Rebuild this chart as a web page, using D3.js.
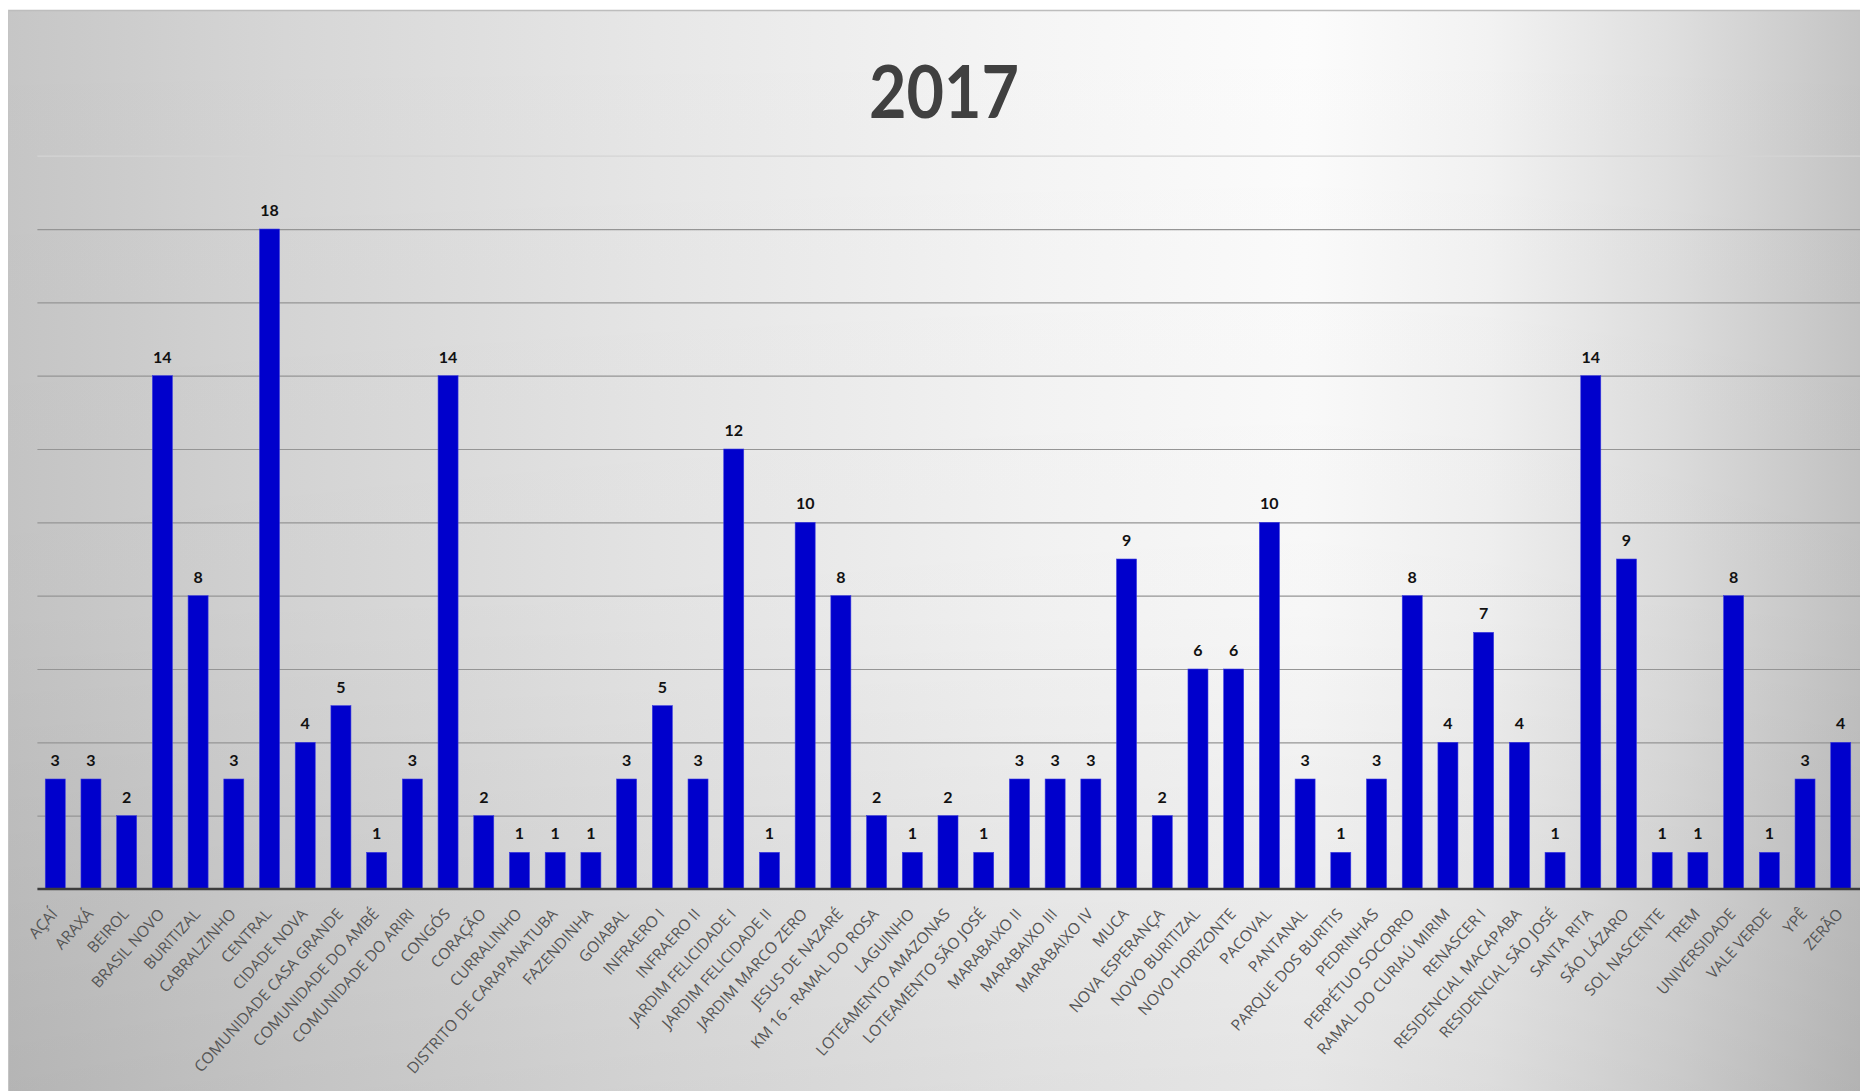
<!DOCTYPE html>
<html>
<head>
<meta charset="utf-8">
<script src="https://cdn.jsdelivr.net/npm/d3@7"></script>
<style>
  html, body { margin: 0; padding: 0; background: #ffffff; }
  svg { display: block; }
</style>
</head>
<body>
<svg id="chart" width="1860" height="1091"></svg>
<script>
const title = "2017";

const categories = [
  "AÇAÍ", "ARAXÁ", "BEIROL", "BRASIL NOVO", "BURITIZAL", "CABRALZINHO", "CENTRAL",
  "CIDADE NOVA", "COMUNIDADE CASA GRANDE", "COMUNIDADE DO AMBÉ", "COMUNIDADE DO ARIRI",
  "CONGÓS", "CORAÇÃO", "CURRALINHO", "DISTRITO DE CARAPANATUBA", "FAZENDINHA", "GOIABAL",
  "INFRAERO I", "INFRAERO II", "JARDIM FELICIDADE I", "JARDIM FELICIDADE II",
  "JARDIM MARCO ZERO", "JESUS DE NAZARÉ", "KM 16 - RAMAL DO ROSA", "LAGUINHO",
  "LOTEAMENTO AMAZONAS", "LOTEAMENTO SÃO JOSÉ", "MARABAIXO II", "MARABAIXO III",
  "MARABAIXO IV", "MUCA", "NOVA ESPERANÇA", "NOVO BURITIZAL", "NOVO HORIZONTE", "PACOVAL",
  "PANTANAL", "PARQUE DOS BURITIS", "PEDRINHAS", "PERPÉTUO SOCORRO", "RAMAL DO CURIAÚ MIRIM",
  "RENASCER I", "RESIDENCIAL MACAPABA", "RESIDENCIAL SÃO JOSÉ", "SANTA RITA", "SÃO LÁZARO",
  "SOL NASCENTE", "TREM", "UNIVERSIDADE", "VALE VERDE", "YPÊ", "ZERÃO"
];

const values = [
  3, 3, 2, 14, 8, 3, 18,
  4, 5, 1, 3,
  14, 2, 1, 1, 1, 3,
  5, 3, 12, 1,
  10, 8, 2, 1,
  2, 1, 3, 3,
  3, 9, 2, 6, 6, 10,
  3, 1, 3, 8, 4,
  7, 4, 1, 14, 9,
  1, 1, 8, 1, 3, 4
];

const yDomain = [0, 20];
const gridTicks = [2, 4, 6, 8, 10, 12, 14, 16, 18, 20];

const data = categories.map((c, i) => ({ cat: c, val: values[i] }));

const svg = d3.select("#chart");
const defs = svg.append("defs");

// Background gradients
const hg = defs.append("linearGradient").attr("id", "bgH")
  .attr("x1", "0").attr("y1", "0").attr("x2", "1").attr("y2", "0");
[[0, "#c6c6c6"], [0.15, "#d6d6d6"], [0.35, "#e7e7e7"], [0.55, "#f5f5f5"], [0.7, "#fcfcfc"],
 [0.8, "#f2f2f2"], [0.9, "#dedede"], [1, "#c4c4c4"]]
  .forEach(([o, c]) => hg.append("stop").attr("offset", o).attr("stop-color", c));

const vg = defs.append("linearGradient").attr("id", "bgV")
  .attr("x1", "0").attr("y1", "0").attr("x2", "0").attr("y2", "1");
[[0, "#000", 0], [0.55, "#000", 0.02], [1, "#000", 0.09]]
  .forEach(([o, c, a]) => vg.append("stop").attr("offset", o).attr("stop-color", c).attr("stop-opacity", a));

const box = { x: 8, y: 10, w: 1860 - 8, h: 1091 - 10 };
svg.append("rect").attr("x", box.x).attr("y", box.y).attr("width", box.w).attr("height", box.h)
  .attr("fill", "url(#bgH)");
svg.append("rect").attr("x", box.x).attr("y", box.y).attr("width", box.w).attr("height", box.h)
  .attr("fill", "url(#bgV)");
svg.append("line").attr("x1", box.x).attr("x2", 1860).attr("y1", box.y + 0.5).attr("y2", box.y + 0.5)
  .attr("stroke", "#bdbdbd").attr("stroke-width", 1.5);
svg.append("line").attr("x1", box.x + 0.5).attr("x2", box.x + 0.5).attr("y1", box.y).attr("y2", 1091)
  .attr("stroke", "#c4c4c4").attr("stroke-width", 1);

// Scales
const plot = { left: 37.4, right: 1858.6, top: 155.7, bottom: 889 };
const x = d3.scaleBand().domain(categories).range([plot.left, plot.right])
  .paddingInner(0.44).paddingOuter(0.22);
const y = d3.scaleLinear().domain(yDomain).range([plot.bottom, plot.top]);

// Gridlines
const grid = svg.append("g").attr("transform", `translate(${plot.left},0)`)
  .call(d3.axisLeft(y).tickValues(gridTicks).tickSize(-(1860 - plot.left)).tickFormat(""));
grid.select(".domain").remove();
grid.selectAll(".tick line")
  .attr("stroke", d => d === 20 ? "#d4d4d4" : "#959595")
  .attr("stroke-width", 1.2);

// Title
svg.append("text")
  .attr("x", 944).attr("y", 118)
  .attr("text-anchor", "middle")
  .attr("font-family", "Lato, 'Open Sans', sans-serif")
  .attr("font-weight", "bold")
  .attr("font-size", 73)
  .attr("fill", "#404040")
  .attr("textLength", 150)
  .attr("lengthAdjust", "spacingAndGlyphs")
  .text(title);

// Bars
svg.append("g").selectAll("rect").data(data).enter().append("rect")
  .attr("x", d => x(d.cat))
  .attr("y", d => y(d.val))
  .attr("width", x.bandwidth())
  .attr("height", d => y(0) - y(d.val))
  .attr("fill", "#0000cc")
  .attr("stroke", "#3a3ae0")
  .attr("stroke-width", 0.6);

// Value labels
svg.append("g").selectAll("text").data(data).enter().append("text")
  .attr("x", d => x(d.cat) + x.bandwidth() / 2)
  .attr("y", d => y(d.val) - 13)
  .attr("text-anchor", "middle")
  .attr("font-family", "Lato, 'Open Sans', sans-serif")
  .attr("font-weight", "bold")
  .attr("font-size", 16)
  .attr("fill", "#111111")
  .text(d => d.val);

// X axis
const xAxis = svg.append("g").attr("transform", `translate(0,${plot.bottom})`)
  .call(d3.axisBottom(x).tickSize(0).tickPadding(0));
xAxis.select(".domain")
  .attr("d", `M${plot.left},0H1860`)
  .attr("stroke", "#3c3c3c").attr("stroke-width", 2.6);
xAxis.selectAll(".tick text")
  .attr("font-family", "'Open Sans', Lato, sans-serif")
  .attr("font-size", 15.6)
  .attr("fill", "#555555")
  .attr("text-anchor", "end")
  .attr("dy", "0.35em")
  .attr("y", 0)
  .attr("transform", "translate(-1,22) rotate(-48)");
</script>
</body>
</html>
